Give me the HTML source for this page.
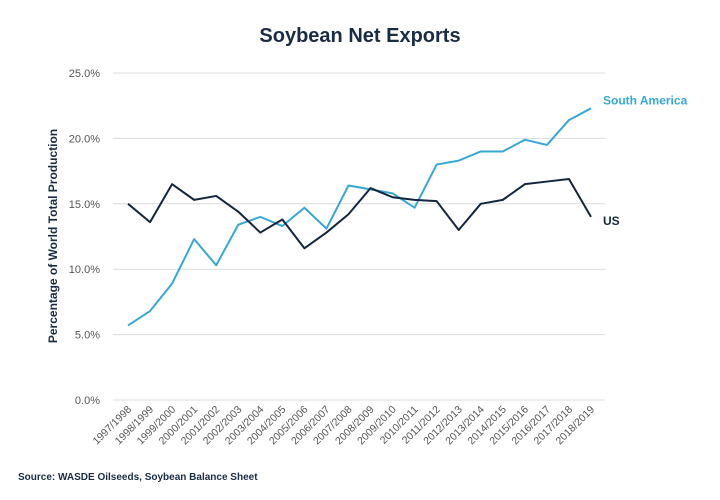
<!DOCTYPE html>
<html><head><meta charset="utf-8"><style>
body{margin:0;background:#fff;font-family:"Liberation Sans",sans-serif}
svg{display:block}
</style></head><body>
<svg id="c" width="720" height="500">
<text x="360" y="42" text-anchor="middle" font-size="20" font-weight="bold" fill="#1a2c45">Soybean Net Exports</text>
<text transform="translate(57,236) rotate(-90)" text-anchor="middle" font-size="12" font-weight="bold" fill="#1a2c45">Percentage of World Total Production</text>
<text x="18" y="480" font-size="10" font-weight="bold" fill="#1a2c45">Source: WASDE Oilseeds, Soybean Balance Sheet</text>
<g id="grid"></g><g id="xl"></g><g id="lines"></g>
</svg>
<script>
const categories=["1997/1998","1998/1999","1999/2000","2000/2001","2001/2002","2002/2003","2003/2004","2004/2005","2005/2006","2006/2007","2007/2008","2008/2009","2009/2010","2010/2011","2011/2012","2012/2013","2013/2014","2014/2015","2015/2016","2016/2017","2017/2018","2018/2019"];
const southAmerica=[5.7,6.8,8.9,12.3,10.3,13.4,14.0,13.3,14.7,13.1,16.4,16.1,15.8,14.7,18.0,18.3,19.0,19.0,19.9,19.5,21.4,22.3];
const us=[15.0,13.6,16.5,15.3,15.6,14.4,12.8,13.8,11.6,12.8,14.2,16.2,15.5,15.3,15.2,13.0,15.0,15.3,16.5,16.7,16.9,14.0];
const yTicks=[0,5,10,15,20,25];
const NS="http://www.w3.org/2000/svg";
const x0=128,x1=591,yb=400,yt=73;
const X=i=>x0+(x1-x0)*i/(categories.length-1);
const Y=v=>yb-(yb-yt)*v/25;
function mk(t,a,p){const e=document.createElementNS(NS,t);for(const k in a)e.setAttribute(k,a[k]);p.appendChild(e);return e;}
const grid=document.getElementById('grid');
yTicks.forEach(v=>{
 const l=mk('line',{x1:113,x2:605,y1:Y(v),y2:Y(v),stroke:'#dcdcdc','stroke-width':1},grid);
 
 
 const t=mk('text',{x:100,y:Y(v)+4,'text-anchor':'end','font-size':11,fill:'#555'},grid);
 t.textContent=v.toFixed(1)+'%';
 
 
});
const xl=document.getElementById('xl');
categories.forEach((c,i)=>{
 const t=mk('text',{transform:`translate(${X(i)+4},${410}) rotate(-45)`,'text-anchor':'end','font-size':10.5,fill:'#555'},xl);
 t.textContent=c;
 
 
});
const lg=document.getElementById('lines');
function series(vals,col,name,label,ly){
 const p=mk('polyline',{points:vals.map((v,i)=>X(i)+','+Y(v)).join(' '),fill:'none',stroke:col,'stroke-width':2,'stroke-linejoin':'round'},lg);
 
 
 const t=mk('text',{x:603,y:Y(vals[vals.length-1])+ly,'font-size':12,'font-weight':'bold',fill:col},lg);
 t.textContent=label;
 
 
}
series(southAmerica,'#35a8d8','south-america','South America',-4);
series(us,'#13263f','us','US',8);
</script>
</body></html>
